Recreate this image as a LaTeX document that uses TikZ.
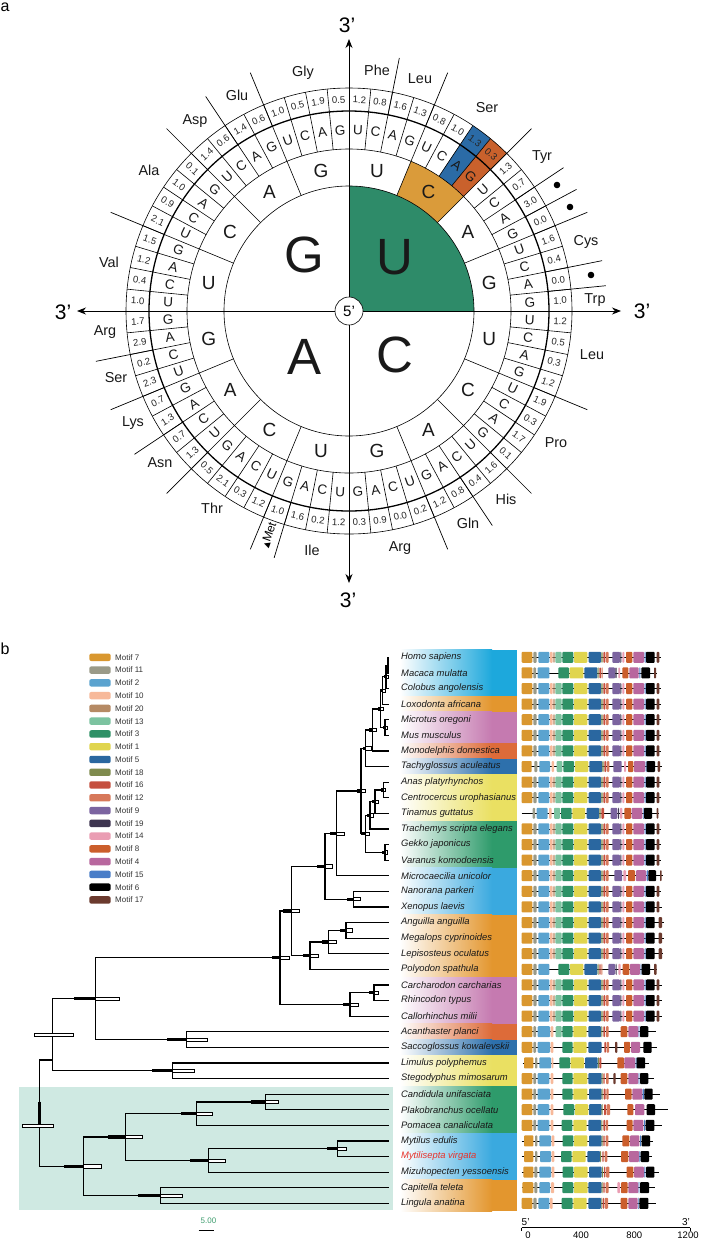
\documentclass[tikz,border=0pt]{standalone}
\usepackage{fontspec}
\setmainfont{Liberation Sans}
\newfontfamily\djv{DejaVu Sans}
\usetikzlibrary{arrows.meta}
% wheel colours
\definecolor{wgreen}{HTML}{2E8B69}
\definecolor{worange}{HTML}{DA9B3A}
\definecolor{wblue}{HTML}{2B6BA6}
\definecolor{wred}{HTML}{C9612C}
% motif colours
\definecolor{m7}{HTML}{D9972F}
\definecolor{m11}{HTML}{9A9A88}
\definecolor{m2}{HTML}{5BA3CF}
\definecolor{m10}{HTML}{F7B99A}
\definecolor{m20}{HTML}{B58A64}
\definecolor{m13}{HTML}{7CC3A0}
\definecolor{m3}{HTML}{2E9166}
\definecolor{m1}{HTML}{E0D54E}
\definecolor{m5}{HTML}{2A67A0}
\definecolor{m18}{HTML}{7F8B4E}
\definecolor{m16}{HTML}{C5503F}
\definecolor{m12}{HTML}{D7785A}
\definecolor{m9}{HTML}{7B64A0}
\definecolor{m19}{HTML}{3E3550}
\definecolor{m14}{HTML}{EA9DB3}
\definecolor{m8}{HTML}{CB5E2B}
\definecolor{m4}{HTML}{B8679E}
\definecolor{m15}{HTML}{4A7EC8}
\definecolor{m6}{HTML}{000000}
\definecolor{m17}{HTML}{6B3A2E}
% band colours
\definecolor{bcyan}{HTML}{1DA8DC}
\definecolor{borange}{HTML}{E3962E}
\definecolor{bmauve}{HTML}{C57AB0}
\definecolor{bred}{HTML}{DD6B39}
\definecolor{bblue}{HTML}{2D70AC}
\definecolor{byellow}{HTML}{EAE062}
\definecolor{bgreen}{HTML}{2E9B6B}
\definecolor{blight}{HTML}{3AA9DF}
\definecolor{hl}{HTML}{CFE9E2}
\definecolor{sbgreen}{HTML}{3F9E6F}
\definecolor{spred}{HTML}{E8322B}

\tikzset{
 thinl/.style={line width=0.6pt},
 sepl/.style={line width=0.7pt},
 axisl/.style={line width=0.9pt, -{Stealth[length=9pt,width=7pt]}},
 bigl/.style={font=\fontsize{51}{51}\selectfont, text=black!90, inner sep=0},
 secl/.style={font=\fontsize{19}{19}\selectfont, text=black!90, inner sep=0},
 thrl/.style={font=\fontsize{13.5}{13.5}\selectfont, text=black!90, inner sep=0},
 numl/.style={font=\fontsize{9.6}{9.6}\selectfont, inner sep=0, text=black!85},
 aal/.style={font=\fontsize{14.4}{14.4}\selectfont, text=black!90},
 tril/.style={font=\fontsize{21}{21}\selectfont},
 tree/.style={line width=1.2pt},
 hpdw/.style={draw=black, fill=white, line width=0.5pt},
 spl/.style={font=\fontsize{9.4}{9.4}\selectfont\itshape, anchor=west, inner sep=0, text=black!90},
 legl/.style={font=\fontsize{8}{8}\selectfont, anchor=west, inner sep=0, text=black!80},
 mline/.style={line width=0.6pt},
}
\newcommand\mrow[4]{%
 \pgfmathsetmacro\ry{657.3+15.6*#1}
 \draw[mline] (#2,\ry) -- (#3,\ry);
 \foreach \a/\b/\c in #4 {\fill[fill=\c, rounded corners=0.9pt] (\a,\ry-5.5) rectangle (\b,\ry+5.5);}
}
\newcommand\hpd[3]{\fill (#1) ++(-#2,-1.6) rectangle ++(#2,3.2); \draw[hpdw] (#1) ++(0,-1.6) rectangle ++(#3,3.2);}
\newcommand\band[3]{%
 \pgfmathsetmacro\ya{657.3+15.6*#1-7.8}
 \pgfmathsetmacro\yb{657.3+15.6*#2+7.8}
 \shade[left color=white, right color=#3] (400,\ya) rectangle (492,\yb);
 \fill[#3] (492,\ya) rectangle (516.7,\yb);
}
\def\VS{365/397/m7, 400/410/m11, 415/448/m2, 450/458/m10, 460/464/m20, 466/485/m13, 487/520/m3, 522/562/m1, 566/603/m5, 604/608/m18, 610/616/m16, 618/626/m12, 637/660/m9, 661/664/m19, 667/673/m14, 678/697/m8, 700/732/m4, 734/737/m15, 738/764/m6, 770/778/m17}
\def\VSF{365/397/m7, 400/410/m11, 415/448/m2, 450/458/m10, 460/464/m20, 466/485/m13, 487/520/m3, 522/562/m1, 566/603/m5, 604/608/m18, 610/616/m16, 618/626/m12, 637/660/m9, 661/664/m19, 667/673/m14, 678/697/m8, 700/732/m4, 734/737/m15, 738/764/m6, 776/786/m17}

\begin{document}
\begin{tikzpicture}[x=1pt, y=-1pt]
\useasboundingbox (0,0) rectangle (703,1240);
\fill[white] (0,0) rectangle (703,1240);

% ================= panel a =================
\node[font=\fontsize{16}{16}\selectfont] (la) at (5,7) {a};
\begin{scope}[shift={(349pt,-311pt)}, x=1pt, y=1pt]
 \fill[wgreen] (0,0) -- (0:125) arc[start angle=0, end angle=90, radius=125] -- cycle;
 \fill[worange] (67.5:125) arc[start angle=67.5, end angle=45, radius=125] -- (45:162) arc[start angle=45, end angle=67.5, radius=162] -- cycle;
 \fill[wblue] (56.25:162) arc[start angle=56.25, end angle=50.625, radius=162] -- (50.625:223) arc[start angle=50.625, end angle=56.25, radius=223] -- cycle;
 \fill[wred] (50.625:162) arc[start angle=50.625, end angle=45, radius=162] -- (45:223) arc[start angle=45, end angle=50.625, radius=223] -- cycle;
 \draw[thinl] (0,0) circle[radius=125] circle[radius=162] circle[radius=223];
 \draw[line width=1.3pt] (0,0) circle[radius=200];
 \foreach \k in {0,...,15} \draw[thinl] ({90-22.5*\k}:125) -- ({90-22.5*\k}:162);
 \foreach \k in {0,...,63} \draw[thinl] ({90-5.625*\k}:162) -- ({90-5.625*\k}:223);
 \foreach \k in {2,4,8,10,11,12,14,15,20,24,26,28,35,36,40,42,44,46,52,56,58,60}
   \draw[sepl] ({90-5.625*\k}:200) -- ({90-5.625*\k}:258);
 \coordinate (ctr) at (0,0);
 \coordinate (tN) at (90:272);
 \coordinate (tS) at (-90:272);
 \coordinate (tW) at (180:272);
 \coordinate (tE) at (0:272);
 \draw[axisl] (ctr) -- (tN);
 \draw[axisl] (ctr) -- (tS);
 \draw[axisl] (ctr) -- (tW);
 \draw[axisl] (ctr) -- (tE);
 \node[circle, draw, fill=white, line width=0.6pt, minimum size=28pt, inner sep=0, font=\fontsize{15}{15}\selectfont] (c5) at (ctr) {5’};
 % first base
 \node[bigl] (bU) at (46,54) {U};
 \node[bigl] (bC) at (46,-44) {C};
 \node[bigl] (bA) at (-44.5,-45.7) {A};
 \node[bigl] (bG) at (-44.5,56) {G};
 % second base
 \foreach \q in {0,...,3} {\foreach \L [count=\s from 0] in {U,C,A,G} {
   \node[secl] at ({90-22.5*(4*\q+\s)-11.25}:143) {\L};}}
 % third base
 \foreach \g in {0,...,15} {\foreach \L [count=\s from 0] in {U,C,A,G} {
   \pgfmathsetmacro\tha{90-22.5*\g-5.625*\s-2.8125}
   \pgfmathsetmacro\rta{mod(\tha+900,180)-90}
   \pgfmathsetmacro\rra{abs(\rta)>45 ? mod(\tha+990,180)-90 : \rta}
   \node[thrl, rotate=\rra] at (\tha:181) {\L};}}
 % values
 \foreach \v [count=\k from 0] in {1.2,0.8,1.6,1.3,0.8,1.0,1.3,0.3,1.3,0.7,3.0,0.0,1.6,0.4,0.0,1.0,
   1.2,0.5,0.3,1.2,1.9,0.3,1.7,0.1,1.6,0.4,0.8,1.2,0.2,0.0,0.9,0.3,
   1.2,0.2,1.6,1.0,1.2,0.3,2.1,0.5,1.3,0.7,1.3,0.7,2.3,0.2,2.9,1.7,
   1.0,0.4,1.2,1.5,2.1,0.9,1.0,0.1,1.4,0.6,1.4,0.6,1.0,0.5,1.9,0.5} {
   \pgfmathsetmacro\tha{90-5.625*\k-2.8125}
   \pgfmathsetmacro\rta{mod(\tha+900,180)-90}
   \pgfmathsetmacro\rra{abs(\rta)>45 ? mod(\tha+990,180)-90 : \rta}
   \node[numl, rotate=\rra] at (\tha:211.5) {\v};}
 \node[font=\fontsize{12}{12}\selectfont, rotate=70.3, inner sep=0] (met) at (-109.7:238) {{\djv\fontsize{8}{8}\selectfont ▲}Met};
\end{scope}
% 3' labels
\node[tril] (e1) at (347,25) {3’};
\node[tril] (e2) at (348,600) {3’};
\node[tril] (e3) at (63,312) {3’};
\node[tril] (e4) at (642,311) {3’};
% amino acids
\foreach \x/\y/\t [count=\i] in {303/73/Gly, 237/95/Glu, 195/121/Asp, 149/170/Ala, 109/262/Val, 105/332/Arg, 116/378/Ser, 133/423/Lys, 160/463/Asn, 212/508/Thr, 312/550/Ile, 400/548/Arg, 468/523/Gln, 506/499/His, 556/443/Pro, 592/355/Leu, 595/300/Trp, 586/242/Cys, 542/157/Tyr, 487/108/Ser, 420/79/Leu, 377/70/Phe}
  \node[aal] (aa\i) at (\x,\y) {\t};
\foreach \x/\y [count=\i] in {557/185, 570/207, 591/275}
  \fill (\x,\y) circle[radius=3.3];

% ================= panel b =================
\node[font=\fontsize{16}{16}\selectfont] (lb) at (5,649) {b};
% legend
\foreach \c/\t [count=\i from 0] in {m7/Motif 7, m11/Motif 11, m2/Motif 2, m10/Motif 10, m20/Motif 20, m13/Motif 13, m3/Motif 3, m1/Motif 1, m5/Motif 5, m18/Motif 18, m16/Motif 16, m12/Motif 12, m9/Motif 9, m19/Motif 19, m14/Motif 14, m8/Motif 8, m4/Motif 4, m15/Motif 15, m6/Motif 6, m17/Motif 17} {
  \pgfmathsetmacro\ly{657.3+12.77*\i}
  \fill[fill=\c, rounded corners=2pt] (89.3,\ly-3.7) rectangle (110.7,\ly+3.7);
  \node[legl] (lg\i) at (115,\ly) {\t};
}
% highlight
\fill[hl] (19,1086.7) rectangle (392.7,1210);
% bands
\band{0}{2}{bcyan}
\band{3}{3}{borange}
\band{4}{5}{bmauve}
\band{6}{6}{bred}
\band{7}{7}{bblue}
\band{8}{10}{byellow}
\band{11}{13}{bgreen}
\band{14}{16}{blight}
\band{17}{20}{borange}
\band{21}{23}{bmauve}
\band{24}{24}{bred}
\band{25}{25}{bblue}
\band{26}{27}{byellow}
\band{28}{30}{bgreen}
\band{31}{33}{blight}
\band{34}{35}{borange}
% species
\foreach \t [count=\i from 0] in {Homo sapiens, Macaca mulatta, Colobus angolensis, Loxodonta africana, Microtus oregoni, Mus musculus, Monodelphis domestica, Tachyglossus aculeatus, Anas platyrhynchos, Centrocercus urophasianus, Tinamus guttatus, Trachemys scripta elegans, Gekko japonicus, Varanus komodoensis, Microcaecilia unicolor, Nanorana parkeri, Xenopus laevis, Anguilla anguilla, Megalops cyprinoides, Lepisosteus oculatus, Polyodon spathula, Carcharodon carcharias, Rhincodon typus, Callorhinchus milii, Acanthaster planci, Saccoglossus kowalevskii, Limulus polyphemus, Stegodyphus mimosarum, Candidula unifasciata, Plakobranchus ocellatu, Pomacea canaliculata, Mytilus edulis, Mytilisepta virgata, Mizuhopecten yessoensis, Capitella teleta, Lingula anatina} {
  \coordinate (t\i) at (389,{657.3+15.6*\i});
  \ifnum\i=32
    \node[spl, text=spred] (s\i) at (401,{657.3+15.6*\i}) {\t};
  \else
    \node[spl] (s\i) at (401,{657.3+15.6*\i}) {\t};
  \fi
}
% tree nodes
\coordinate (n1) at (387.5,665.1);
\coordinate (n2) at (386,676.8);
\coordinate (n3) at (382.7,690.45);
\coordinate (n4) at (385,727.5);
\coordinate (n5) at (380.7,708.98);
\coordinate (n6) at (372.7,729.94);
\coordinate (n7) at (365.7,748.2);
\coordinate (n8) at (383.3,789.9);
\coordinate (n9) at (375,801.6);
\coordinate (n10) at (370,815.25);
\coordinate (n11) at (385,852.3);
\coordinate (n12) at (365.7,833.8);
\coordinate (n13) at (361,791.0);
\coordinate (n14) at (336.7,833.35);
\coordinate (n15) at (353.3,899.1);
\coordinate (n16) at (325,866.2);
\coordinate (n17) at (346,930.3);
\coordinate (n18) at (328.3,942.0);
\coordinate (n19) at (310,955.65);
\coordinate (n20) at (291.7,910.9);
\coordinate (n21) at (374,992.7);
\coordinate (n22) at (350,1004.4);
\coordinate (n23) at (280,957.65);
\coordinate (n24) at (186.7,1039.5);
\coordinate (n25) at (95.7,998.6);
\coordinate (n26) at (172.7,1070.7);
\coordinate (n27) at (52.7,1034.65);
\coordinate (n28) at (265.7,1101.9);
\coordinate (n29) at (196.7,1113.6);
\coordinate (n30) at (337.3,1148.7);
\coordinate (n31) at (208.3,1160.4);
\coordinate (n32) at (125.7,1137.0);
\coordinate (n33) at (160.7,1195.5);
\coordinate (n34) at (83.3,1166.2);
\coordinate (rootA) at (39.5,1060);
\coordinate (rootA2) at (52.7,1060);
\foreach \p/\c in {n1/t0,n1/t1,n2/n1,n2/t2,n3/n2,n3/t3,n4/t4,n4/t5,n5/n3,n5/n4,n6/n5,n6/t6,n7/n6,n7/t7,
  n8/t8,n8/t9,n9/n8,n9/t10,n10/n9,n10/t11,n11/t12,n11/t13,n12/n10,n12/n11,n13/n7,n13/n12,n14/n13,n14/t14,
  n15/t15,n15/t16,n16/n14,n16/n15,n17/t17,n17/t18,n18/n17,n18/t19,n19/n18,n19/t20,n20/n16,n20/n19,
  n21/t21,n21/t22,n22/n21,n22/t23,n23/n20,n23/n22,n24/t24,n24/t25,n25/n23,n25/n24,n26/t26,n26/t27,
  n27/n25,n27/n26,n28/t28,n28/t29,n29/n28,n29/t30,n30/t31,n30/t32,n31/n30,n31/t33,n32/n29,n32/n31,
  n33/t34,n33/t35,n34/n32,n34/n33}
  \draw[tree] (\p) |- (\c);
\draw[tree] (rootA2) -- (rootA) |- (n34);
\draw[line width=2.4pt] (39.5,1101.7) -- (39.5,1125.7);
% HPD bars
\draw[hpdw] (22.4,1124.4) rectangle (53,1127.6);
\draw[hpdw] (n27) ++(-18.4,-1.6) rectangle ++(39,3.2);
\hpd{n25}{21.7}{23.6}
\hpd{n23}{8.3}{9.3}
\hpd{n20}{9}{7.6}
\hpd{n19}{6.7}{8.3}
\hpd{n18}{6.6}{7.7}
\hpd{n17}{6}{6.3}
\hpd{n22}{7.3}{8.3}
\hpd{n21}{4.7}{4.3}
\hpd{n24}{20}{21}
\hpd{n26}{21}{21.6}
\hpd{n34}{19}{18.4}
\hpd{n32}{17.4}{17}
\hpd{n29}{15.7}{16}
\hpd{n28}{15}{12.6}
\hpd{n31}{18.3}{16.7}
\hpd{n30}{10}{9.4}
\hpd{n33}{22.4}{22}
\hpd{n15}{6.6}{6.7}
\hpd{n16}{7.7}{7.7}
\hpd{n14}{6.7}{7.6}
\hpd{n13}{4.3}{4.7}
\hpd{n12}{4.7}{3.6}
\hpd{n10}{3.5}{3.5}
\hpd{n9}{3}{3}
\hpd{n8}{2.8}{2.2}
\hpd{n11}{3}{2.5}
\hpd{n7}{2.4}{6}
\hpd{n6}{3.4}{4}
\hpd{n5}{2.4}{2.6}
\hpd{n4}{2}{2}
\hpd{n3}{2.4}{2.6}
\hpd{n2}{2}{2}
\draw[line width=2pt] (387.5,658) -- (387.5,672);
% scale bar
\node[font=\fontsize{8}{8}\selectfont, text=sbgreen] (sb) at (208.5,1220.7) {5.00};
\coordinate (sb0) at (198.7,1230.7);
\coordinate (sb1) at (214.3,1230.7);
\draw[line width=1pt] (sb0) -- (sb1);

% motif rows
\begin{scope}[shift={(400pt,0pt)}, x=0.333333pt]
\mrow{0}{365}{782}{\VS}
\mrow{1}{365}{770}{{365/397/m7, 400/408/m11, 413/448/m2, 475/507/m3, 509/550/m1, 553/592/m5, 593/596/m18, 598/603/m16, 605/608/m12, 625/645/m9, 646/650/m19, 655/660/m14, 667/685/m8, 688/716/m4, 718/721/m15, 724/750/m6, 762/768/m17}}
\mrow{2}{365}{782}{\VS}
\mrow{3}{365}{782}{\VS}
\mrow{4}{365}{782}{\VS}
\mrow{5}{365}{782}{\VS}
\mrow{6}{365}{782}{\VS}
\mrow{7}{365}{785}{{365/395/m7, 403/412/m11, 418/450/m2, 455/462/m10, 470/487/m13, 490/522/m3, 525/565/m1, 568/607/m5, 607/611/m18, 613/619/m16, 621/628/m12, 640/665/m9, 672/678/m14, 684/700/m8, 702/735/m4, 737/740/m15, 740/765/m6, 773/780/m17}}
\mrow{8}{365}{782}{\VS}
\mrow{9}{365}{782}{\VS}
\mrow{10}{365}{778}{{398/405/m11, 410/443/m2, 447/455/m10, 462/480/m13, 483/515/m3, 517/555/m1, 560/597/m5, 598/602/m18, 604/612/m16, 632/652/m9, 654/657/m19, 660/667/m14, 673/693/m8, 695/727/m4, 729/731/m15, 732/756/m6, 770/775/m17}}
\mrow{11}{365}{782}{\VS}
\mrow{12}{365}{782}{\VS}
\mrow{13}{365}{782}{\VS}
\mrow{14}{365}{788}{{365/397/m7, 400/410/m11, 415/448/m2, 450/458/m10, 460/464/m20, 466/485/m13, 487/520/m3, 522/562/m1, 566/603/m5, 604/608/m18, 610/616/m16, 618/626/m12, 643/666/m9, 670/678/m14, 684/705/m8, 708/738/m4, 740/744/m15, 745/768/m6, 780/785/m17}}
\mrow{15}{365}{782}{\VS}
\mrow{16}{365}{785}{\VS}
\mrow{17}{365}{792}{\VSF}
\mrow{18}{365}{792}{\VSF}
\mrow{19}{365}{790}{\VSF}
\mrow{20}{365}{772}{{365/397/m7, 400/410/m11, 415/448/m2, 475/508/m3, 510/550/m1, 553/592/m5, 593/596/m18, 598/602/m16, 604/607/m12, 625/645/m9, 647/650/m19, 655/662/m14, 668/688/m8, 690/720/m4, 722/724/m15, 725/750/m6, 762/770/m17}}
\mrow{21}{365}{785}{\VS}
\mrow{22}{365}{785}{\VS}
\mrow{23}{365}{785}{\VS}
\mrow{24}{365}{767}{{365/397/m7, 400/408/m11, 413/450/m2, 452/460/m10, 467/485/m13, 487/518/m3, 520/560/m1, 565/603/m5, 604/607/m18, 610/615/m16, 618/626/m12, 662/682/m8, 685/715/m4, 716/718/m15, 720/745/m6}}
\mrow{25}{365}{772}{{365/397/m7, 400/408/m11, 413/450/m2, 452/460/m10, 487/518/m3, 520/560/m1, 565/605/m5, 613/618/m16, 620/627/m12, 645/652/m17, 672/690/m8, 693/720/m4, 730/755/m6}}
\mrow{26}{368}{748}{{372/400/m7, 405/412/m11, 418/453/m2, 455/460/m10, 478/510/m3, 512/552/m1, 555/593/m5, 594/597/m18, 598/604/m16, 652/672/m8, 673/705/m4, 707/710/m15, 710/735/m6}}
\mrow{27}{365}{763}{{365/397/m7, 400/408/m11, 413/448/m2, 452/460/m10, 487/518/m3, 520/562/m1, 565/605/m5, 605/608/m18, 610/614/m16, 618/626/m12, 640/647/m17, 662/682/m8, 685/715/m4, 716/718/m15, 720/745/m6}}
\mrow{28}{365}{780}{{365/397/m7, 400/408/m11, 413/450/m2, 452/460/m10, 487/518/m3, 520/562/m1, 567/605/m5, 605/608/m18, 611/617/m16, 619/626/m12, 675/695/m8, 697/727/m4, 728/732/m15, 733/758/m6}}
\mrow{29}{365}{803}{{365/397/m7, 400/408/m11, 413/448/m2, 452/460/m10, 490/523/m3, 525/565/m1, 567/605/m5, 605/608/m18, 612/618/m16, 620/630/m12, 682/700/m8, 705/733/m4, 740/765/m6}}
\mrow{30}{365}{785}{{365/397/m7, 400/408/m11, 413/448/m2, 452/460/m10, 485/517/m3, 520/560/m1, 565/603/m5, 604/607/m18, 610/616/m16, 618/624/m12, 680/698/m8, 700/730/m4, 732/735/m15, 737/763/m6}}
\mrow{31}{365}{760}{{372/400/m7, 405/412/m11, 418/453/m2, 455/463/m10, 488/520/m3, 522/562/m1, 567/605/m5, 605/608/m18, 610/614/m16, 617/625/m12, 667/688/m8, 690/718/m4, 720/723/m15, 725/750/m6}}
\mrow{32}{365}{757}{{372/400/m7, 405/412/m11, 420/453/m2, 455/463/m10, 483/515/m3, 517/557/m1, 562/600/m5, 600/603/m18, 607/611/m16, 614/622/m12, 663/685/m8, 687/717/m4, 718/721/m15, 722/747/m6}}
\mrow{33}{365}{778}{{370/400/m7, 403/412/m11, 418/453/m2, 455/463/m10, 488/520/m3, 522/563/m1, 567/605/m5, 606/609/m18, 612/616/m16, 618/628/m12, 680/700/m8, 702/732/m4, 733/736/m15, 738/763/m6}}
\mrow{34}{365}{765}{{367/400/m7, 403/412/m11, 418/450/m2, 453/462/m10, 487/520/m3, 522/563/m1, 565/605/m5, 605/608/m18, 610/614/m16, 617/626/m12, 652/660/m14, 663/683/m8, 685/715/m4, 716/718/m15, 720/747/m6}}
\mrow{35}{365}{768}{{365/397/m7, 400/410/m11, 415/448/m2, 450/458/m10, 485/518/m3, 520/560/m1, 565/603/m5, 604/606/m18, 608/612/m16, 614/624/m12, 662/682/m8, 685/713/m4, 714/716/m15, 718/745/m6}}
% axis
\coordinate (ax0) at (364.5,1227.7);
\coordinate (ax1) at (870,1227.7);
\draw[line width=0.8pt] (ax0) -- (ax1);
\draw[line width=0.8pt] (ax0) -- ++(0,3);
\draw[line width=0.8pt] (ax1) -- ++(0,3);
\node[font=\fontsize{10}{10}\selectfont, anchor=south west, inner sep=0] (p5) at (364.5,1225.5) {5’};
\node[font=\fontsize{10}{10}\selectfont, anchor=south east, inner sep=0] (p3) at (870,1225.5) {3’};
\foreach \x/\t in {384/0, 543/400, 703/800, 864/1200}
  \node[font=\fontsize{9.5}{9.5}\selectfont, inner sep=0] at (\x,1235) {\t};
\end{scope}
\end{tikzpicture}
\end{document}
